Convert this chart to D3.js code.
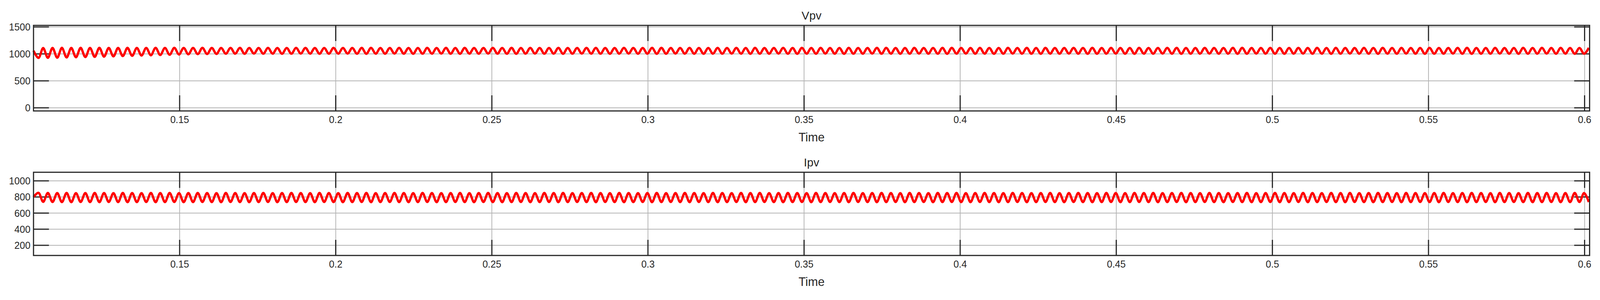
<!DOCTYPE html>
<meta charset="utf-8">
<script src="https://cdn.jsdelivr.net/npm/d3@7"></script>
<style>
    html, body { margin: 0; background: #fff; overflow: hidden; }
    svg { display: block; }
    text { font-family: "Liberation Sans", Arial, sans-serif; fill: #262626; }
    .grid line { stroke: #b4b4b4; stroke-width: 2; }
    .frame { fill: none; stroke: #262626; stroke-width: 3; }
    .sig { fill: none; stroke: #ff0000; stroke-width: 6; stroke-linejoin: round; }
</style>
<body>
<script>
    // time axis
    const tStart = 0.1032, tEnd = 0.6016;
    const xTicks = [0.15, 0.2, 0.25, 0.3, 0.35, 0.4, 0.45, 0.5, 0.55, 0.6];
    const ripple = 333.3;   // ripple frequency, Hz
    const dipPhase = 0.53;  // first Vpv dip, in periods after tStart

    // Vpv: per-cycle dip and crest values
    const vpvMin = [
        925, 928, 930, 935, 938, 942, 946, 950, 955, 960, 965, 970, 975, 980, 985, 990, 993, 996, 998, 1000,
        1003, 1004, 1002, 1005, 1003, 1004, 1002, 1003, 1005, 1004, 1002, 1003, 1004, 1005, 1003, 1002, 1004, 1003, 1005, 1004,
        1002, 1003, 1004, 1005, 1003, 1002, 1004, 1003, 1005, 1004, 1003, 1002, 1004, 1005, 1003, 1004, 1002, 1003, 1005, 1004,
        1003, 1002, 1004, 1005, 1003, 1004, 1002, 1003, 1005, 1004, 1003, 1002, 1004, 1003, 1005, 1004, 1002, 1003, 1004, 1005,
        1003, 1002, 1004, 1003, 1005, 1004, 1002, 1003, 1004, 1005, 1003, 1004, 1002, 1003, 1005, 1004, 1003, 1002, 1004, 1005,
        1003, 1004, 1002, 1003, 1005, 1004, 1003, 1002, 1004, 1003, 1005, 1004, 1002, 1003, 1004, 1005, 1003, 1002, 1004, 1003,
        1005, 1004, 1002, 1003, 1004, 1005, 1003, 1004, 1002, 1003, 1005, 1004, 1003, 1002, 1004, 1005, 1003, 1004, 1002, 1003,
        1005, 1004, 1003, 1002, 1004, 1003, 1005, 1004, 1002, 1003, 1004, 1005, 1003, 1002, 1004, 1003, 1005, 1004, 1002, 1003,
        1004, 1005, 1003, 1004, 1002, 1003, 1005, 1004
    ];
    const vpvMax = [
        1108, 1110, 1112, 1110, 1112, 1111, 1112, 1110, 1111, 1112, 1110, 1111, 1113, 1110, 1112, 1111, 1110, 1112, 1111, 1110,
        1112, 1113, 1111, 1110, 1112, 1111, 1110, 1112, 1113, 1111, 1110, 1112, 1111, 1110, 1112, 1113, 1111, 1110, 1112, 1111,
        1110, 1112, 1111, 1113, 1110, 1112, 1111, 1110, 1112, 1111, 1113, 1110, 1112, 1111, 1110, 1112, 1111, 1110, 1113, 1112,
        1111, 1110, 1112, 1111, 1110, 1112, 1113, 1111, 1110, 1112, 1111, 1110, 1112, 1111, 1113, 1110, 1112, 1111, 1110, 1112,
        1111, 1113, 1110, 1112, 1111, 1110, 1112, 1111, 1110, 1113, 1112, 1111, 1110, 1112, 1111, 1110, 1112, 1113, 1111, 1110,
        1112, 1111, 1110, 1112, 1111, 1113, 1110, 1112, 1111, 1110, 1112, 1111, 1113, 1110, 1112, 1111, 1110, 1112, 1111, 1110,
        1113, 1112, 1111, 1110, 1112, 1111, 1110, 1112, 1113, 1111, 1110, 1112, 1111, 1110, 1112, 1111, 1113, 1110, 1112, 1111,
        1110, 1112, 1111, 1113, 1110, 1112, 1111, 1110, 1112, 1111, 1110, 1112, 1113, 1111, 1110, 1112, 1111, 1110, 1112, 1111,
        1113, 1110, 1112, 1111, 1110, 1112, 1111, 1110
    ];

    // Ipv: per-cycle crest and dip values (crest lines up with the Vpv dip)
    const ipvMax = [
        852, 850, 849, 850, 848, 849, 850, 849, 848, 850, 849, 848, 850, 849, 850, 848, 849, 850, 849, 848,
        850, 849, 848, 849, 850, 848, 849, 850, 849, 848, 850, 849, 848, 850, 849, 850, 848, 849, 850, 849,
        848, 850, 849, 848, 849, 850, 848, 849, 850, 849, 848, 850, 849, 848, 850, 849, 850, 848, 849, 850,
        849, 848, 850, 849, 848, 849, 850, 848, 849, 850, 849, 848, 850, 849, 848, 850, 849, 850, 848, 849,
        850, 849, 848, 850, 849, 848, 849, 850, 848, 849, 850, 849, 848, 850, 849, 848, 850, 849, 850, 848,
        849, 850, 849, 848, 850, 849, 848, 849, 850, 848, 849, 850, 849, 848, 850, 849, 848, 850, 849, 850,
        848, 849, 850, 849, 848, 850, 849, 848, 849, 850, 848, 849, 850, 849, 848, 850, 849, 848, 850, 849,
        850, 848, 849, 850, 849, 848, 850, 849, 848, 849, 850, 848, 849, 850, 849, 848, 850, 849, 848, 850,
        849, 850, 848, 849, 850, 849, 848, 850
    ];
    const ipvMin = [
        740, 738, 737, 736, 738, 737, 736, 738, 737, 736, 737, 738, 736, 737, 738, 736, 737, 738, 737, 736,
        738, 737, 736, 737, 738, 736, 737, 738, 737, 736, 738, 737, 736, 737, 738, 736, 737, 738, 737, 736,
        737, 738, 736, 737, 738, 737, 736, 738, 737, 736, 737, 738, 736, 737, 738, 736, 737, 738, 737, 736,
        738, 737, 736, 737, 738, 736, 737, 738, 737, 736, 738, 737, 736, 737, 738, 736, 737, 738, 737, 736,
        737, 738, 736, 737, 738, 737, 736, 738, 737, 736, 737, 738, 736, 737, 738, 736, 737, 738, 737, 736,
        738, 737, 736, 737, 738, 736, 737, 738, 737, 736, 738, 737, 736, 737, 738, 736, 737, 738, 737, 736,
        737, 738, 736, 737, 738, 737, 736, 738, 737, 736, 737, 738, 736, 737, 738, 736, 737, 738, 737, 736,
        738, 737, 736, 737, 738, 736, 737, 738, 737, 736, 738, 737, 736, 737, 738, 736, 737, 738, 737, 736,
        737, 738, 736, 737, 738, 737, 736, 738
    ];

    const W = 4153, H = 768;
    const svg = d3.select("body").append("svg")
        .attr("viewBox", "0 0 " + W + " " + H)
        .attr("preserveAspectRatio", "none")
        .style("width", "100vw").style("height", "100vh");

    const x = d3.scaleLinear().domain([tStart, tEnd]).range([87, 4126]);

    // [t, v] samples: first value at tStart, then alternating extremes every half period
    function samples(first, second, startValue) {
        let pts = [[tStart, startValue]];
        for (let i = 0; i < first.length; i++) {
            let ta = tStart + (i + dipPhase) / ripple;
            let tb = tStart + (i + dipPhase + 0.5) / ripple;
            if (ta <= tEnd) pts.push([ta, first[i]]);
            if (tb <= tEnd) pts.push([tb, second[i]]);
        }
        return pts;
    }

    const panels = [
        {title: "Vpv", top: 65, bottom: 284, domain: [-58, 1529], yTicks: [0, 500, 1000, 1500],
            data: samples(vpvMin, vpvMax, 1060)},
        {title: "Ipv", top: 441, bottom: 654, domain: [74, 1107], yTicks: [200, 400, 600, 800, 1000],
            data: samples(ipvMax, ipvMin, 800)}
    ];

    panels.forEach(function (p) {
        let y = d3.scaleLinear().domain(p.domain).range([p.bottom, p.top]);
        let g = svg.append("g");

        // grid
        let grid = g.append("g").attr("class", "grid");
        grid.selectAll(".gy").data(p.yTicks).enter().append("line")
            .attr("x1", x.range()[0]).attr("x2", x.range()[1])
            .attr("y1", d => y(d)).attr("y2", d => y(d));
        grid.selectAll(".gx").data(xTicks).enter().append("line")
            .attr("x1", d => x(d)).attr("x2", d => x(d))
            .attr("y1", p.top).attr("y2", p.bottom);

        // inward ticks
        let tk = g.append("g").attr("stroke", "#262626").attr("stroke-width", 3);
        p.yTicks.forEach(function (v) {
            tk.append("line").attr("x1", x.range()[0]).attr("x2", x.range()[0] + 40).attr("y1", y(v)).attr("y2", y(v));
            tk.append("line").attr("x1", x.range()[1]).attr("x2", x.range()[1] - 40).attr("y1", y(v)).attr("y2", y(v));
        });
        xTicks.forEach(function (v) {
            tk.append("line").attr("x1", x(v)).attr("x2", x(v)).attr("y1", p.top).attr("y2", p.top + 40);
            tk.append("line").attr("x1", x(v)).attr("x2", x(v)).attr("y1", p.bottom).attr("y2", p.bottom - 40);
        });

        // signal
        g.append("path").datum(p.data).attr("class", "sig")
            .attr("d", d3.line().x(d => x(d[0])).y(d => y(d[1])).curve(d3.curveCatmullRom));

        g.append("rect").attr("class", "frame")
            .attr("x", x.range()[0]).attr("y", p.top)
            .attr("width", x.range()[1] - x.range()[0]).attr("height", p.bottom - p.top);

        // labels
        g.selectAll(".yl").data(p.yTicks).enter().append("text")
            .attr("x", x.range()[0] - 8).attr("y", d => y(d)).attr("dy", "0.36em")
            .attr("text-anchor", "end").style("font-size", "25px").text(d => d);
        g.selectAll(".xl").data(xTicks).enter().append("text")
            .attr("x", d => x(d)).attr("y", p.bottom + 31)
            .attr("text-anchor", "middle").style("font-size", "25px").text(d => d);
        g.append("text").attr("x", (x.range()[0] + x.range()[1]) / 2).attr("y", p.top - 15)
            .attr("text-anchor", "middle").style("font-size", "30px").text(p.title);
        g.append("text").attr("x", (x.range()[0] + x.range()[1]) / 2).attr("y", p.bottom + 78)
            .attr("text-anchor", "middle").style("font-size", "31px").text("Time");
    });
</script>
</body>
</html>
